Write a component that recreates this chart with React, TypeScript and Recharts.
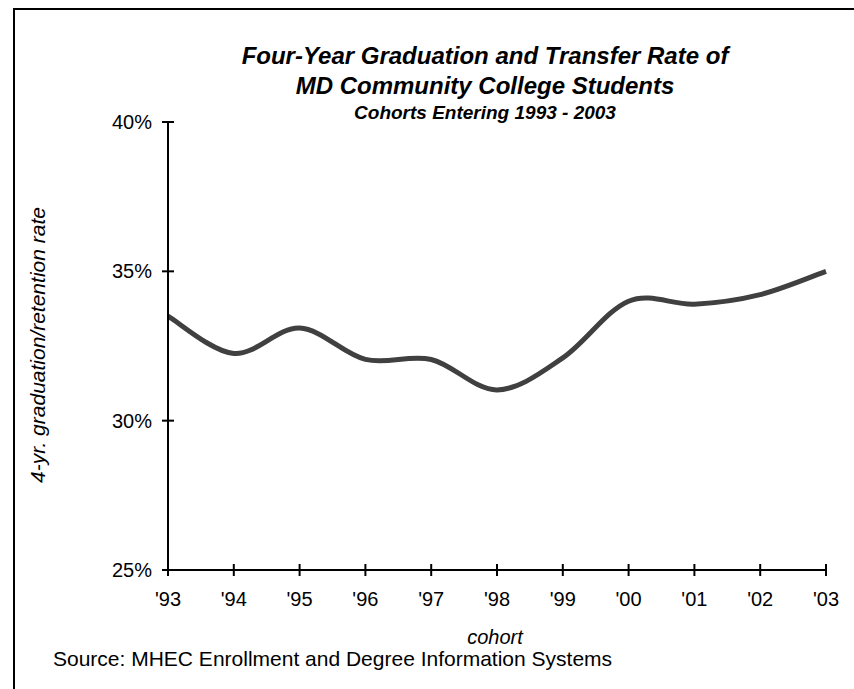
import React from "react";
import { Line, LineChart, XAxis, YAxis } from "recharts";

const YEARS = ["'93", "'94", "'95", "'96", "'97", "'98", "'99", "'00", "'01", "'02", "'03"];
const RATES = [33.5, 32.25, 33.1, 32.05, 32.05, 31.03, 32.1, 34.0, 33.9, 34.22, 35.0];
const Y_TICKS = [25, 30, 35, 40];

const data = YEARS.map((year, i) => ({ year, rate: RATES[i] }));

const FONT = "Arial, 'Liberation Sans', sans-serif";

// Excel-style smoothed line (Catmull-Rom through every point)
function smoothCurve(context: any) {
  let pts: number[][] = [];
  return {
    areaStart() {},
    areaEnd() {},
    lineStart() {
      pts = [];
    },
    point(x: number, y: number) {
      pts.push([+x, +y]);
    },
    lineEnd() {
      if (!pts.length) return;
      context.moveTo(pts[0][0], pts[0][1]);
      for (let i = 0; i < pts.length - 1; i++) {
        const p0 = pts[i - 1] || pts[i];
        const p1 = pts[i];
        const p2 = pts[i + 1];
        const p3 = pts[i + 2] || p2;
        context.bezierCurveTo(
          p1[0] + (p2[0] - p0[0]) / 6,
          p1[1] + (p2[1] - p0[1]) / 6,
          p2[0] - (p3[0] - p1[0]) / 6,
          p2[1] - (p3[1] - p1[1]) / 6,
          p2[0],
          p2[1],
        );
      }
    },
  };
}

function XTick(props: any) {
  const { x, y, payload } = props;
  return (
    <g>
      <line x1={x} x2={x} y1={y - 6} y2={y + 6} stroke="#000" strokeWidth={2} />
      <text x={x} y={y + 36} textAnchor="middle" fontSize={20} fontFamily={FONT} fill="#000">
        {payload.value}
      </text>
    </g>
  );
}

function YTick(props: any) {
  const { x, y, payload } = props;
  return (
    <g>
      <line x1={x - 6} x2={x + 6} y1={y} y2={y} stroke="#000" strokeWidth={2} />
      <text x={x - 16} y={y + 7} textAnchor="end" fontSize={20} fontFamily={FONT} fill="#000">
        {payload.value}%
      </text>
    </g>
  );
}

export default function App() {
  return (
    <div
      style={{
        position: "absolute",
        left: 0,
        top: 0,
        width: 854,
        height: 689,
        background: "#fff",
        overflow: "hidden",
        fontFamily: FONT,
      }}
    >
      <div
        style={{
          position: "absolute",
          left: 13,
          top: 8,
          width: 900,
          height: 800,
          borderLeft: "2px solid #000",
          borderTop: "2px solid #000",
        }}
      />
      <div
        style={{
          position: "absolute",
          left: 0,
          width: 970,
          top: 41,
          textAlign: "center",
          fontWeight: "bold",
          fontStyle: "italic",
          color: "#000",
        }}
      >
        <div style={{ fontSize: 24, lineHeight: "30px" }}>Four-Year Graduation and Transfer Rate of</div>
        <div style={{ fontSize: 24, lineHeight: "30px" }}>MD Community College Students</div>
        <div style={{ fontSize: 19, lineHeight: "24px" }}>Cohorts Entering 1993 - 2003</div>
      </div>
      <div
        style={{
          position: "absolute",
          left: 38 - 200,
          top: 345 - 12,
          width: 400,
          height: 24,
          lineHeight: "24px",
          textAlign: "center",
          fontSize: 21,
          fontStyle: "italic",
          transform: "rotate(-90deg)",
        }}
      >
        4-yr. graduation/retention rate
      </div>
      <div
        style={{
          position: "absolute",
          left: 495 - 100,
          width: 200,
          top: 627,
          textAlign: "center",
          fontSize: 20,
          fontStyle: "italic",
          lineHeight: "20px",
        }}
      >
        cohort
      </div>
      <div style={{ position: "absolute", left: 53, top: 648, fontSize: 21, lineHeight: "22px" }}>
        Source: MHEC Enrollment and Degree Information Systems
      </div>
      <div style={{ position: "absolute", left: 0, top: 0 }}>
        <LineChart width={854} height={689} data={data} margin={{ top: 122, right: 28, bottom: 79, left: 108 }}>
          <XAxis
            dataKey="year"
            height={40}
            axisLine={{ stroke: "#000", strokeWidth: 2 }}
            tickLine={false}
            tickSize={0}
            tickMargin={0}
            tick={<XTick />}
            interval={0}
          />
          <YAxis
            width={60}
            domain={[25, 40]}
            ticks={Y_TICKS}
            axisLine={{ stroke: "#000", strokeWidth: 2 }}
            tickLine={false}
            tickSize={0}
            tickMargin={0}
            tick={<YTick />}
            allowDataOverflow
          />
          <Line
            dataKey="rate"
            type={smoothCurve as any}
            stroke="#404040"
            strokeWidth={5}
            dot={false}
            isAnimationActive={false}
          />
        </LineChart>
      </div>
    </div>
  );
}
